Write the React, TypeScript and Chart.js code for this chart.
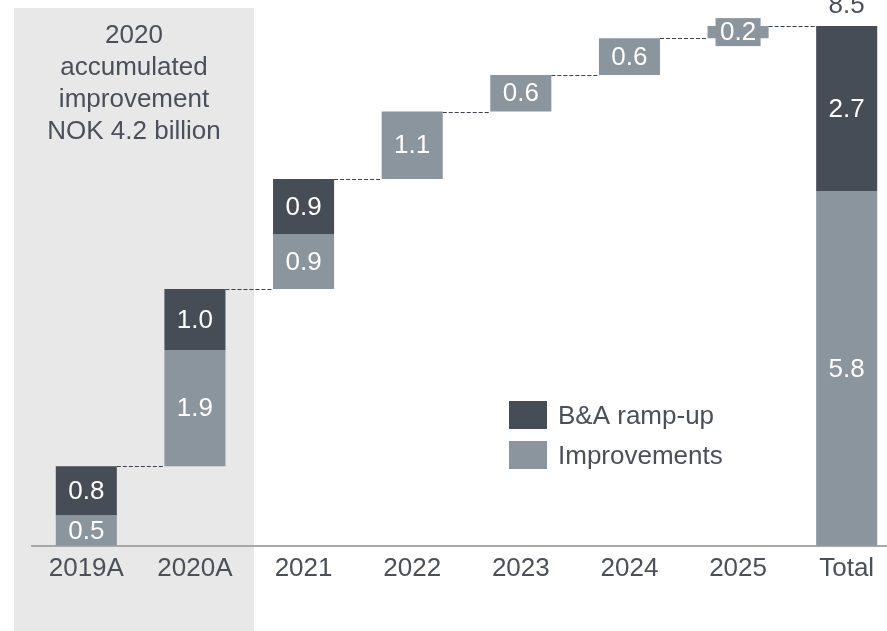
import React, { useEffect, useRef } from "react";
import { Chart, registerables } from "chart.js";

Chart.register(...registerables);

const categories = ["2019A", "2020A", "2021", "2022", "2023", "2024", "2025", "Total"];
const improvements = [0.5, 1.9, 0.9, 1.1, 0.6, 0.6, 0.2, 5.8];
const rampUp = [0.8, 1.0, 0.9, 0, 0, 0, 0, 2.7];
const totalLabel = "8.5";
const boxLines = ["2020", "accumulated", "improvement", "NOK 4.2 billion"];
const seriesNames = ["B&A ramp-up", "Improvements"];

const DARK = "#464d56";
const LIGHT = "#8a959e";
const TEXT = "#4b5058";
const SHADE = "#e8e8e8";
const FONT = "'Liberation Sans', Arial, sans-serif";

const r1 = (v: number) => Math.round(v * 10) / 10;

const impBars: ([number, number] | null)[] = [];
const rampBars: ([number, number] | null)[] = [];
const cumTops: number[] = [];
(() => {
  let run = 0;
  const last = categories.length - 1;
  categories.forEach((_, i) => {
    if (i === last) {
      impBars.push([0, improvements[i]]);
      rampBars.push([improvements[i], r1(improvements[i] + rampUp[i])]);
      cumTops.push(r1(improvements[i] + rampUp[i]));
      return;
    }
    impBars.push([r1(run), r1(run + improvements[i])]);
    run = r1(run + improvements[i]);
    rampBars.push(rampUp[i] ? [run, r1(run + rampUp[i])] : null);
    run = r1(run + rampUp[i]);
    cumTops.push(run);
  });
})();

const overlayPlugin = {
  id: "overlay",
  beforeDraw(chart: any) {
    const ctx = chart.ctx;
    ctx.save();
    ctx.fillStyle = SHADE;
    ctx.fillRect(14, 8, 240, 630);
    ctx.fillStyle = TEXT;
    ctx.font = `26px ${FONT}`;
    ctx.textAlign = "center";
    ctx.textBaseline = "alphabetic";
    boxLines.forEach((t, i) => ctx.fillText(t, 134, 43 + i * 32));
    ctx.restore();
  },
  afterDatasetsDraw(chart: any) {
    const ctx = chart.ctx;
    const y = chart.scales.y;
    const impMeta = chart.getDatasetMeta(1);
    const rampMeta = chart.getDatasetMeta(0);
    ctx.save();
    // connectors
    ctx.strokeStyle = "#3c4148";
    ctx.lineWidth = 1.1;
    ctx.setLineDash([4, 2]);
    for (let i = 0; i < categories.length - 1; i++) {
      const a = impMeta.data[i];
      const b = impMeta.data[i + 1];
      const py = Math.round(y.getPixelForValue(cumTops[i])) + 0.5;
      ctx.beginPath();
      ctx.moveTo(a.x + a.width / 2, py);
      ctx.lineTo(b.x - b.width / 2, py);
      ctx.stroke();
    }
    ctx.setLineDash([]);
    // value labels
    ctx.font = `26px ${FONT}`;
    ctx.textAlign = "center";
    ctx.textBaseline = "middle";
    const drawLabels = (meta: any, vals: number[]) => {
      meta.data.forEach((el: any, i: number) => {
        if (!vals[i]) return;
        const cy = (el.y + el.base) / 2;
        const txt = vals[i].toFixed(1);
        if (Math.abs(el.base - el.y) < 26) {
          ctx.fillStyle = LIGHT;
          ctx.fillRect(el.x - 22.5, cy - 14, 45, 28);
        }
        ctx.fillStyle = "#ffffff";
        ctx.fillText(txt, el.x, cy + 1);
      });
    };
    drawLabels(impMeta, improvements);
    drawLabels(rampMeta, rampUp);
    // total label above
    const tEl = rampMeta.data[categories.length - 1];
    ctx.fillStyle = TEXT;
    ctx.textBaseline = "alphabetic";
    ctx.fillText(totalLabel, tEl.x, tEl.y - 13);
    // legend
    const items = [
      { c: DARK, t: seriesNames[0] },
      { c: LIGHT, t: seriesNames[1] },
    ];
    ctx.textAlign = "left";
    items.forEach((it, i) => {
      ctx.fillStyle = it.c;
      ctx.fillRect(509, 401 + i * 40, 38, 28);
      ctx.fillStyle = TEXT;
      ctx.fillText(it.t, 558, 424 + i * 40);
    });
    ctx.restore();
  },
};

export default function App() {
  const ref = useRef<HTMLCanvasElement>(null);
  useEffect(() => {
    if (!ref.current) return;
    Chart.defaults.font.family = FONT;
    const chart = new Chart(ref.current, {
      type: "bar",
      data: {
        labels: categories,
        datasets: [
          {
            label: seriesNames[0],
            data: rampBars as any,
            backgroundColor: DARK,
            grouped: false,
            categoryPercentage: 1,
            barPercentage: 0.562,
          } as any,
          {
            label: seriesNames[1],
            data: impBars as any,
            backgroundColor: LIGHT,
            grouped: false,
            categoryPercentage: 1,
            barPercentage: 0.562,
          } as any,
        ],
      },
      options: {
        animation: false,
        responsive: false,
        maintainAspectRatio: false,
        layout: { padding: { top: 26, left: 32, right: 0, bottom: 40 } },
        plugins: {
          legend: { display: false },
          tooltip: { enabled: false },
        },
        scales: {
          x: {
            offset: true,
            grid: { display: false, drawTicks: false },
            border: { display: true, color: "#a8a8a8", width: 2 },
            ticks: { color: TEXT, font: { size: 26, family: FONT }, padding: 7, maxRotation: 0, autoSkip: false },
          },
          y: { display: false, min: 0, max: 8.5 },
        },
      },
      plugins: [overlayPlugin],
    });
    return () => chart.destroy();
  }, []);
  return (
    <div style={{ position: "fixed", left: 0, top: 0, width: 887, height: 631, overflow: "hidden", background: "#fff" }}>
      <canvas ref={ref} width={901} height={631} style={{ display: "block" }} />
    </div>
  );
}
